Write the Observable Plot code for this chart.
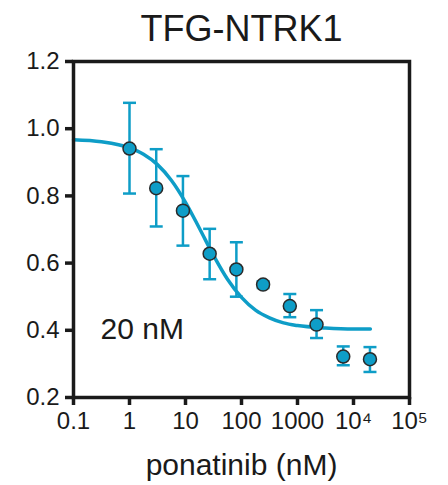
<!DOCTYPE html>
<html>
<head>
<meta charset="utf-8">
<script src="https://cdn.jsdelivr.net/npm/d3@7"></script>
<script src="https://cdn.jsdelivr.net/npm/@observablehq/plot@0.6"></script>
<style>
  html, body { margin: 0; padding: 0; background: #fff; }
</style>
</head>
<body>
<div id="chart"></div>
<script>
// ---- data ----
const title = "TFG-NTRK1";
const xLabel = "ponatinib (nM)";
const annotation = "20 nM";

const conc  = [1, 3, 9, 27, 81, 243, 729, 2187, 6561, 19683];
const mean  = [0.941, 0.823, 0.756, 0.628, 0.581, 0.536, 0.472, 0.417, 0.322, 0.314];
const upper = [1.077, 0.939, 0.859, 0.702, 0.662, 0.546, 0.508, 0.460, 0.352, 0.350];
const lower = [0.807, 0.709, 0.652, 0.552, 0.500, 0.526, 0.439, 0.377, 0.296, 0.276];

// fitted curve
const fitConc  = [0.1, 0.316, 1, 1.78, 3.16, 5.62, 10, 17.8, 31.6, 56.2, 100, 178, 316, 562, 1000, 3162, 10000, 20000];
const fitValue = [0.967, 0.961, 0.943, 0.924, 0.893, 0.846, 0.781, 0.703, 0.623, 0.552, 0.498, 0.460, 0.437, 0.422, 0.414, 0.407, 0.404, 0.404];

const xTicks = [0.1, 1, 10, 100, 1000, 10000, 100000];
const xTickLabels = ["0.1", "1", "10", "100", "1000", "10\u2074", "10\u2075"];
const yTicks = [0.2, 0.4, 0.6, 0.8, 1.0, 1.2];

// ---- build ----
const points = conc.map((c, i) => ({conc: c, mean: mean[i], upper: upper[i], lower: lower[i]}));
const fit = fitConc.map((c, i) => ({conc: c, value: fitValue[i]}));

const blue = "#0e9dc7";
const ink = "#1a1a1a";

const capSymbol = {
  draw(context, size) {
    const w = Math.sqrt(size / Math.PI);
    context.moveTo(-w, 0);
    context.lineTo(w, 0);
  }
};

const chart = Plot.plot({
  width: 448,
  height: 485,
  marginLeft: 73,
  marginRight: 39,
  marginTop: 61,
  marginBottom: 88,
  style: {fontFamily: "'Liberation Sans', Arial, Helvetica, sans-serif", color: ink, background: "#fff", overflow: "visible"},
  x: {type: "log", domain: [0.1, 1e5]},
  y: {domain: [0.2, 1.2]},
  marks: [
    Plot.axisX(xTicks, {tickSize: 8, tickPadding: 6, stroke: ink, strokeWidth: 3.5, fontSize: 24, label: null,
      tickFormat: (d) => xTickLabels[xTicks.indexOf(d)]}),
    Plot.axisY(yTicks, {tickSize: 8, tickPadding: 6, stroke: ink, strokeWidth: 3.5, fontSize: 24, label: null,
      tickFormat: d => d.toFixed(1)}),
    Plot.ruleX(points, {x: "conc", y1: "lower", y2: "upper", stroke: blue, strokeWidth: 2.5}),
    Plot.dot(points, {x: "conc", y: "upper", symbol: capSymbol, r: 6.5, stroke: blue, strokeWidth: 2.5, fill: "none"}),
    Plot.dot(points, {x: "conc", y: "lower", symbol: capSymbol, r: 6.5, stroke: blue, strokeWidth: 2.5, fill: "none"}),
    Plot.line(fit, {x: "conc", y: "value", stroke: blue, strokeWidth: 3.5, curve: "monotone-x"}),
    Plot.dot(points, {x: "conc", y: "mean", r: 6.5, fill: blue, stroke: "#2a2a2a", strokeWidth: 1.5}),
    Plot.frame({stroke: ink, strokeWidth: 3.5}),
    Plot.text([title], {frameAnchor: "top", lineAnchor: "bottom", dy: -21, fontSize: 36, fill: ink}),
    Plot.text([xLabel], {frameAnchor: "bottom", lineAnchor: "bottom", dy: 77, fontSize: 30, fill: ink}),
    Plot.text([annotation], {frameAnchor: "bottom-left", textAnchor: "start", lineAnchor: "bottom", dx: 27, dy: -59, fontSize: 30, fill: ink})
  ]
});

document.getElementById("chart").appendChild(chart);
</script>
</body>
</html>
